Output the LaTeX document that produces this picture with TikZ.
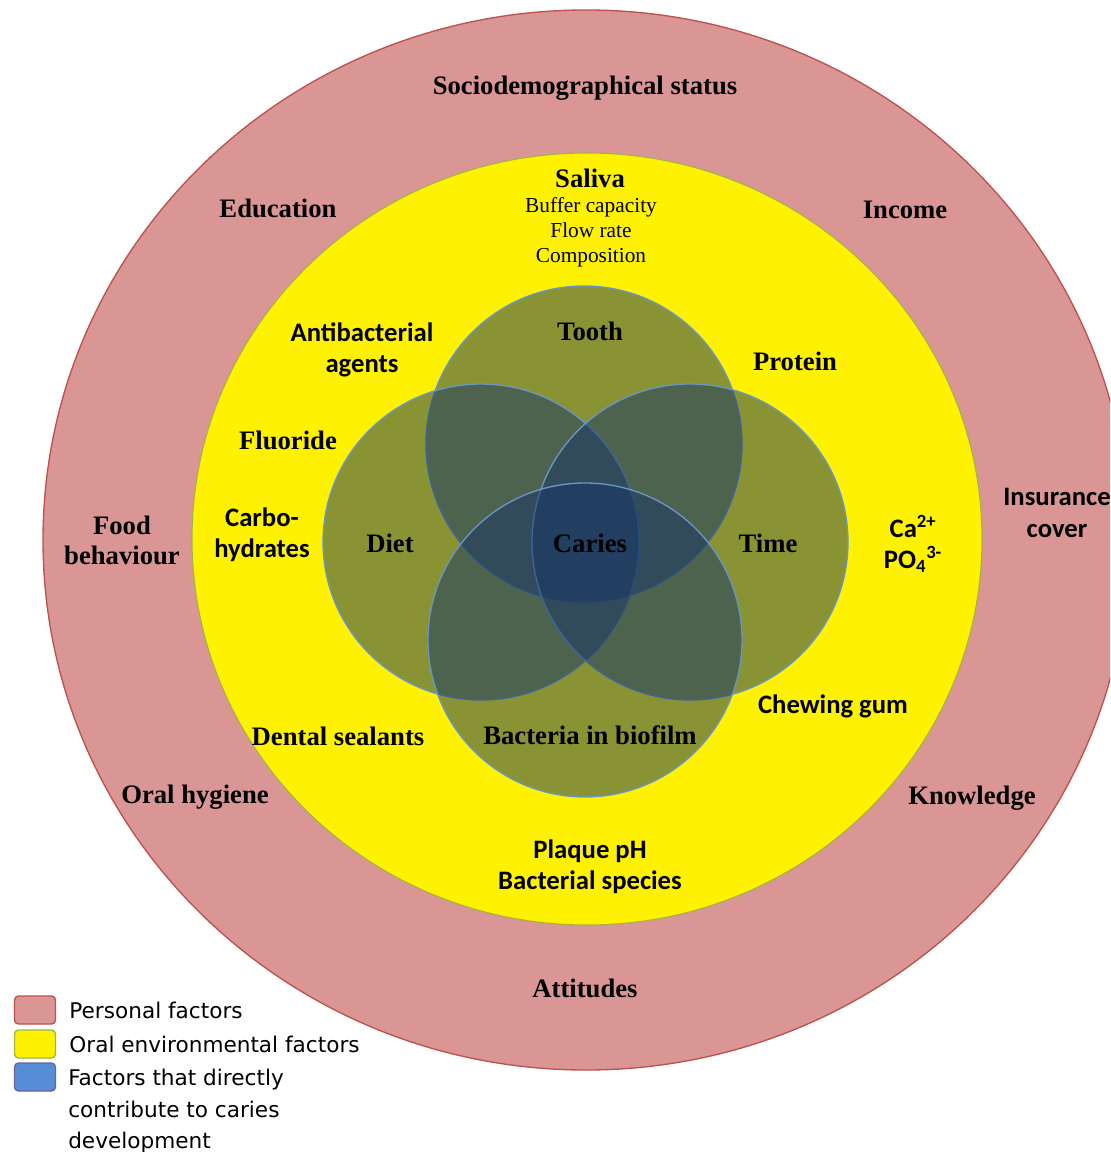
\documentclass[tikz,border=0pt]{standalone}
\usepackage{fontspec}
\setmainfont{Liberation Serif}
\newfontfamily\carlito{Carlito}
\newfontfamily\dejavu{DejaVu Sans}
\usepackage{tikz}
\usetikzlibrary{positioning}

\definecolor{pinkfill}{RGB}{217,150,148}
\definecolor{pinkline}{RGB}{192,80,77}
\definecolor{yellowline}{RGB}{160,180,70}
\definecolor{vennfill}{RGB}{21,53,104}
\definecolor{vennline}{RGB}{105,150,200}
\definecolor{legblue}{RGB}{85,142,213}
\definecolor{legblueline}{RGB}{110,95,160}

\begin{document}
\begin{tikzpicture}[x=0.75pt,y=-0.75pt,
ringlbl/.style={font=\bfseries\fontsize{20pt}{22.5pt}\selectfont,align=center,inner sep=0pt},
sublbl/.style={font=\fontsize{16pt}{18.75pt}\selectfont,align=center,inner sep=0pt},
sanslbl/.style={font=\carlito\bfseries\fontsize{20pt}{23.5pt}\selectfont,align=center,inner sep=0pt},
venn/.style={fill=vennfill,fill opacity=0.5,draw=vennline,line width=1pt},
legbox/.style={rounded corners=3pt,line width=1pt,minimum width=30.75pt,minimum height=21pt,inner sep=0pt},
legtxt/.style={font=\dejavu\fontsize{16.2pt}{23.5pt}\selectfont,align=left,inner sep=0pt}]
\useasboundingbox (0,0) rectangle (1110,1152);
\clip (0,0) rectangle (1110,1152);

\fill[white] (0,0) rectangle (1110,1152);
\filldraw[fill=pinkfill,draw=pinkline,line width=1pt] (586,540) ellipse [x radius=543,y radius=530];
\filldraw[fill=yellow,draw=yellowline,line width=0.8pt] (587,539) ellipse [x radius=395,y radius=386];

\draw[venn] (584,444) circle (158);
\draw[venn] (481,542) circle (158);
\draw[venn] (690,542) circle (158);
\draw[venn] (585,640) circle (157);

\node[ringlbl] (socio) at (585,88) {Sociodemographical status};
\node[ringlbl] (educ) at (278,208) {Education};
\node[ringlbl] (income) at (905,210) {Income};
\node[ringlbl] (food) at (122,540) {Food\\behaviour};
\node[sanslbl] (insur) at (1057,513) {Insurance\\cover};
\node[ringlbl] (hygiene) at (195,797) {Oral hygiene};
\node[ringlbl] (knowl) at (972,798) {Knowledge};
\node[ringlbl] (attit) at (585,988) {Attitudes};

\node[ringlbl] (saliva) at (590,178) {Saliva};
\node[sublbl] (salsub) at (591,232) {Buffer capacity\\Flow rate\\Composition};
\node[sanslbl] (antib) at (362,350) {Antibacterial\\agents};
\node[ringlbl] (protein) at (795,361) {Protein};
\node[ringlbl] (fluor) at (288,440) {Fluoride};
\node[sanslbl] (carbo) at (262,535) {Carbo-\\hydrates};
\node[sanslbl] (ions) at (913,544) {Ca\textsuperscript{2+}\\PO\textsubscript{4}\textsuperscript{3-}};
\node[sanslbl] (chew) at (833,706) {Chewing gum};
\node[ringlbl] (sealant) at (338,736) {Dental sealants};
\node[sanslbl] (plaque) at (590,867) {Plaque pH\\Bacterial species};

\node[ringlbl] (tooth) at (590,331) {Tooth};
\node[ringlbl] (diet) at (390,543) {Diet};
\node[ringlbl] (caries) at (590,543) {Caries};
\node[ringlbl] (time) at (768,543) {Time};
\node[ringlbl] (biofilm) at (590,735) {Bacteria in biofilm};

\node[legbox,fill=pinkfill,draw=pinkline] (kpers) at (35,1010) {};
\node[legbox,fill=yellow,draw=yellowline] (koral) at (35,1044) {};
\node[legbox,fill=legblue,draw=legblueline] (kdirect) at (35,1077) {};
\node[legtxt,right=9.75pt of kpers] (tpers) {Personal factors};
\node[legtxt,right=9.75pt of koral] (toral) {Oral environmental factors};
\node[legtxt,anchor=north west] (tdirect) at (68,1069) {Factors that directly\\contribute to caries\\development};
\end{tikzpicture}
\end{document}
